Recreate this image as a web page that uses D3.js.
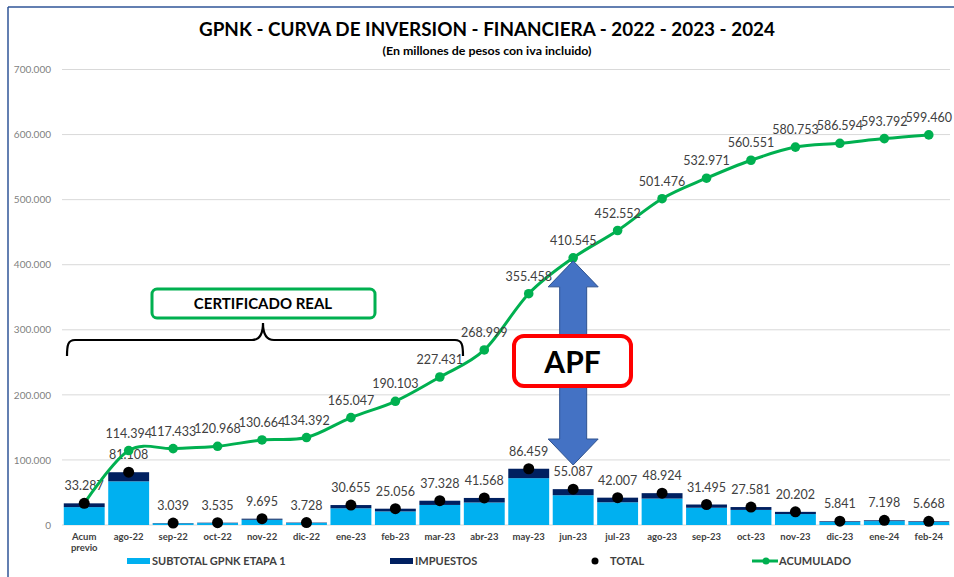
<!DOCTYPE html>
<html>
<head>
<meta charset="utf-8">
<script src="https://cdn.jsdelivr.net/npm/d3@7"></script>
<style>
  html, body { margin: 0; padding: 0; background: #fff; }
  svg { display: block; font-family: Lato, "Open Sans", sans-serif; }
</style>
</head>
<body>
<svg id="chart" width="954" height="577"></svg>
<script>
const categories = ["Acum previo","ago-22","sep-22","oct-22","nov-22","dic-22","ene-23","feb-23","mar-23","abr-23","may-23","jun-23","jul-23","ago-23","sep-23","oct-23","nov-23","dic-23","ene-24","feb-24"];
const total = [33.287,81.108,3.039,3.535,9.695,3.728,30.655,25.056,37.328,41.568,86.459,55.087,42.007,48.924,31.495,27.581,20.202,5.841,7.198,5.668];
const impuestos = [5.8,14.0,0.5,0.6,1.6,0.6,5.0,4.2,6.5,7.0,14.5,9.3,7.1,8.3,5.0,4.4,3.4,1.0,1.2,1.0];
const acumulado = [33.287,114.394,117.433,120.968,130.664,134.392,165.047,190.103,227.431,268.999,355.458,410.545,452.552,501.476,532.971,560.551,580.753,586.594,593.792,599.460];
const yTicks = [0,100,200,300,400,500,600,700];

const subtotal = total.map((t,i) => t - impuestos[i]);
const fmtLabel = v => v.toFixed(3);
const fmtTick = v => v === 0 ? "0" : v.toFixed(3);

const svg = d3.select("#chart");
const C_SUB = "#00B0F0", C_IMP = "#002060", C_GREEN = "#00B050";

// frame
svg.append("line").attr("x1",8).attr("x2",954).attr("y1",7).attr("y2",7).attr("stroke","#2F5597").attr("stroke-width",1.5);
svg.append("line").attr("x1",8).attr("x2",8).attr("y1",7).attr("y2",577).attr("stroke","#2F5597").attr("stroke-width",1.5);

// title
svg.append("text").attr("x",487).attr("y",36).attr("text-anchor","middle")
  .attr("font-size",18).attr("font-weight",700).attr("fill","#000")
  .attr("textLength",576).attr("lengthAdjust","spacingAndGlyphs")
  .text("GPNK - CURVA DE INVERSION - FINANCIERA - 2022 - 2023 - 2024");
svg.append("text").attr("x",487).attr("y",55).attr("text-anchor","middle")
  .attr("font-size",11).attr("font-weight",700).attr("fill","#000")
  .attr("textLength",209).attr("lengthAdjust","spacingAndGlyphs")
  .text("(En millones de pesos con iva incluido)");

const x = d3.scaleBand().domain(categories).range([62, 951]).paddingInner(0.08).paddingOuter(0.04);
const y = d3.scaleLinear().domain([0, 700]).range([525, 69.5]);

// gridlines
svg.append("g").selectAll("line").data(yTicks).join("line")
  .attr("x1",62).attr("x2",950).attr("y1",d=>y(d)).attr("y2",d=>y(d))
  .attr("stroke","#D9D9D9").attr("stroke-width",1);

// y axis
const yAxis = d3.axisLeft(y).tickValues(yTicks).tickFormat(fmtTick).tickSize(0).tickPadding(0);
const yg = svg.append("g").attr("transform","translate(51,0)").call(yAxis);
yg.select(".domain").remove();
yg.selectAll("text").attr("font-size",10).attr("fill","#7F7F7F").attr("font-family","Lato, sans-serif");

// x axis
const xAxis = d3.axisBottom(x).tickSize(0).tickPadding(0);
const xg = svg.append("g").attr("transform","translate(0,533)").call(xAxis);
xg.select(".domain").remove();
xg.selectAll("text").attr("font-size",9.5).attr("font-weight",700).attr("fill","#404040")
  .attr("font-family","Lato, sans-serif")
  .each(function(d){
    const t = d3.select(this);
    const parts = d.split(" ");
    t.text(null);
    parts.forEach((p,i)=> t.append("tspan").attr("x",0).attr("dy", i===0 ? "0.71em" : "1.2em").text(p));
  });

// bars
const bw = x.bandwidth();
svg.append("g").selectAll("rect").data(categories).join("rect")
  .attr("x",d=>x(d)).attr("width",bw)
  .attr("y",(d,i)=>y(subtotal[i])).attr("height",(d,i)=>y(0)-y(subtotal[i]))
  .attr("fill",C_SUB);
svg.append("g").selectAll("rect").data(categories).join("rect")
  .attr("x",d=>x(d)).attr("width",bw)
  .attr("y",(d,i)=>y(total[i])).attr("height",(d,i)=>y(subtotal[i])-y(total[i]))
  .attr("fill",C_IMP);

// total labels
svg.append("g").selectAll("text").data(categories).join("text")
  .attr("x",d=>x(d)+bw/2).attr("y",(d,i)=>y(total[i])-13)
  .attr("text-anchor","middle").attr("font-size",12.5).attr("fill","#404040")
  .text((d,i)=>fmtLabel(total[i]));

// cumulative line
const line = d3.line().x((d,i)=>x(categories[i])+bw/2).y(d=>y(d)).curve(d3.curveCardinal.tension(0));
svg.append("path").datum(acumulado).attr("d",line).attr("fill","none").attr("stroke",C_GREEN).attr("stroke-width",3);
svg.append("g").selectAll("circle").data(acumulado).join("circle")
  .attr("cx",(d,i)=>x(categories[i])+bw/2).attr("cy",d=>y(d)).attr("r",4.8).attr("fill",C_GREEN);
svg.append("g").selectAll("text").data(acumulado.slice(1)).join("text")
  .attr("x",(d,i)=>x(categories[i+1])+bw/2).attr("y",d=>y(d)-13)
  .attr("text-anchor","middle").attr("font-size",12.5).attr("fill","#404040")
  .text(d=>fmtLabel(d));

// total dots (drawn above the line)
svg.append("g").selectAll("circle").data(categories).join("circle")
  .attr("cx",d=>x(d)+bw/2).attr("cy",(d,i)=>y(total[i])).attr("r",5.5).attr("fill","#000");

// CERTIFICADO REAL annotation
svg.append("path")
  .attr("d","M67,356 C67,345 68,340 75,340 L252,340 C259,340 263,335 263,323 C263,335 267,340 274,340 L455,340 C462,340 463,345 463,356")
  .attr("fill","none").attr("stroke","#000").attr("stroke-width",2.2);
svg.append("rect").attr("x",152).attr("y",289).attr("width",223).attr("height",29).attr("rx",5)
  .attr("fill","#fff").attr("stroke",C_GREEN).attr("stroke-width",3);
svg.append("text").attr("x",263).attr("y",309).attr("text-anchor","middle")
  .attr("font-size",15).attr("font-weight",700).attr("fill","#000").text("CERTIFICADO REAL");

// APF double arrow
const ax = x("jun-23") + bw/2;
const yTop = y(acumulado[11]) + 3, yBot = 465;
const sh = 13.5, hh = 25, hl = 26;
svg.append("path")
  .attr("d",`M${ax},${yTop} L${ax+hh},${yTop+hl} L${ax+sh},${yTop+hl} L${ax+sh},${yBot-hl} L${ax+hh},${yBot-hl} L${ax},${yBot} L${ax-hh},${yBot-hl} L${ax-sh},${yBot-hl} L${ax-sh},${yTop+hl} L${ax-hh},${yTop+hl} Z`)
  .attr("fill","#4472C4").attr("stroke","#2F528F").attr("stroke-width",1);
svg.append("rect").attr("x",514).attr("y",336).attr("width",117).attr("height",50).attr("rx",10)
  .attr("fill","#fff").attr("stroke","#FF0000").attr("stroke-width",4);
svg.append("text").attr("x",572.5).attr("y",373).attr("text-anchor","middle")
  .attr("font-size",30).attr("font-weight",700).attr("fill","#000").text("APF");

// legend
const lg = svg.append("g").attr("font-size",11).attr("font-weight",700).attr("fill","#404040");
lg.append("rect").attr("x",127).attr("y",558).attr("width",23).attr("height",6).attr("fill",C_SUB);
lg.append("text").attr("x",152).attr("y",565).attr("fill","#404040").text("SUBTOTAL GPNK ETAPA 1");
lg.append("rect").attr("x",390).attr("y",558).attr("width",23).attr("height",6).attr("fill",C_IMP);
lg.append("text").attr("x",415).attr("y",565).attr("fill","#404040").text("IMPUESTOS");
lg.append("circle").attr("cx",595).attr("cy",561).attr("r",3.5).attr("fill","#000");
lg.append("text").attr("x",610).attr("y",565).attr("fill","#404040").text("TOTAL");
lg.append("line").attr("x1",752).attr("x2",778).attr("y1",561).attr("y2",561).attr("stroke",C_GREEN).attr("stroke-width",3);
lg.append("circle").attr("cx",766).attr("cy",561).attr("r",3.5).attr("fill",C_GREEN);
lg.append("text").attr("x",779).attr("y",565).attr("fill","#404040").text("ACUMULADO");
</script>
</body>
</html>
